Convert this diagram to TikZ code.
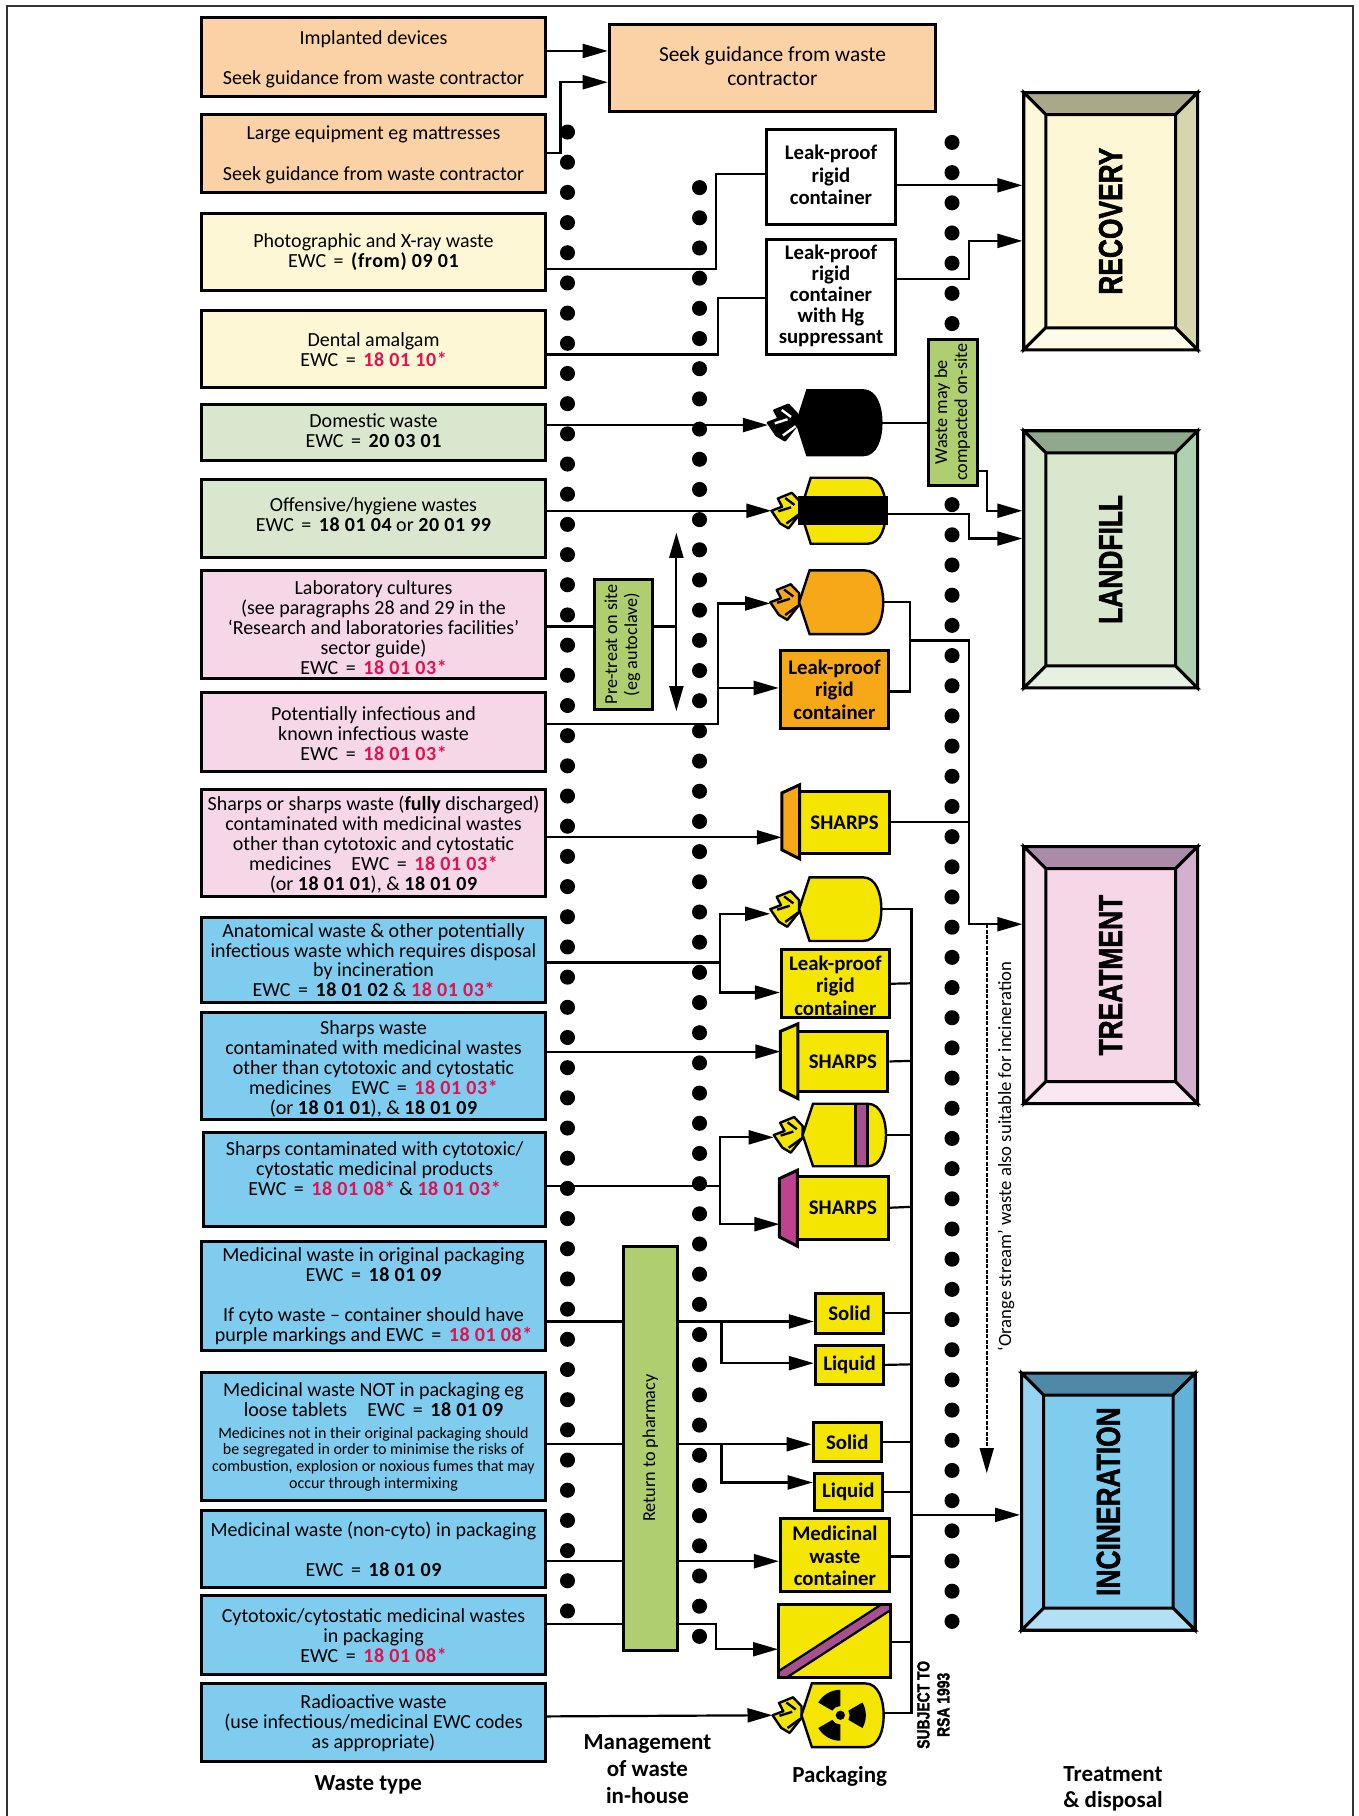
\documentclass[tikz,border=0pt]{standalone}
\usepackage{fontspec}
\usepackage{xcolor}
\usetikzlibrary{arrows.meta,calc}
\setmainfont{Carlito}
\newfontfamily\headfont[BoldFeatures={FakeBold=1.8}]{Liberation Sans}

\definecolor{peach}{HTML}{FBD2A6}
\definecolor{cream}{HTML}{FDF7D5}
\definecolor{sage}{HTML}{D8E7CE}
\definecolor{rose}{HTML}{F5D7E7}
\definecolor{sky}{HTML}{7FCCEE}
\definecolor{leaf}{HTML}{AECE6F}
\definecolor{binyellow}{HTML}{F4E600}
\definecolor{binorange}{HTML}{F7A818}
\definecolor{binpurple}{HTML}{A8508F}
\definecolor{binmagenta}{HTML}{BE4290}
\definecolor{codered}{HTML}{E0124F}
\definecolor{recovtop}{HTML}{A9A98A}
\definecolor{recovleft}{HTML}{FDF8DA}
\definecolor{recovright}{HTML}{D6D6AE}
\definecolor{recovbot}{HTML}{FEFCE8}
\definecolor{landtop}{HTML}{8FA88E}
\definecolor{landright}{HTML}{AED1B0}
\definecolor{landbot}{HTML}{E7F1E2}
\definecolor{treattop}{HTML}{AA8CA8}
\definecolor{treatleft}{HTML}{F6DDEA}
\definecolor{treatright}{HTML}{D4B0CF}
\definecolor{treatbot}{HTML}{F9E8F2}
\definecolor{incintop}{HTML}{5088A8}
\definecolor{incinleft}{HTML}{96D4F2}
\definecolor{incinright}{HTML}{62B1D8}
\definecolor{incinbot}{HTML}{B4E0F6}

\def\px{0.5793pt}
\newcommand{\bnum}[1]{{\bfseries\addfontfeature{LetterSpace=3}#1}}
\newcommand{\code}[1]{\textcolor{codered}{\bnum{#1}}}
\newcommand{\ewc}{EWC\hspace{1.5pt} =\hspace{1.5pt} }
\newcommand{\notefont}{\fontsize{8}{8.2}\selectfont}
\newcommand{\tdown}[1]{\rule{0pt}{\dimexpr 7.3pt+#1\relax}}
\newcommand{\tup}[1]{\rule[-#1]{0pt}{0pt}}
\newcommand{\heavy}[2]{\scalebox{.79}[1]{\headfont\bfseries\fontsize{#1}{#1}\selectfont #2}}

% name, tip x, mid y, width, half height, fill, colour of knot creases
\newcommand{\sack}[7]{
  \coordinate (#1-knot) at (#2-25,#3);
  \coordinate (#1-east) at (#2+#4,#3);
  \begin{scope}[shift={(#2,#3)}]
    \filldraw[line width=1.2pt, fill=#6, line join=round] (0,-7.8) -- (-7.3,-15.5) -- (-19.4,-10.6) -- (-15.7,-3.5) -- (-24.9,0) -- (-17.5,10.9) -- (-10.2,15.2) -- (0,2.3) -- cycle;
    \draw[line width=1.2pt, #7] (-13,-11) -- (-5,-5) (-19,0.5) -- (-8,-3) (-1,3) -- (-12,11);
    \filldraw[line width=1.2pt, fill=#6] (0,0) -- (9,-#5) -- (#4-16,-#5) .. controls (#4-4,-#5) and (#4,-#5*.45) .. (#4,0) .. controls (#4,#5*.45) and (#4-4,#5) .. (#4-16,#5) -- (9,#5) -- cycle;
  \end{scope}
}
% name, centre x, centre y, label, centre, top, left, right, bottom
\newcommand{\bevelbox}[9]{
  \node[draw, line width=1.5pt, fill=#5, minimum width=150*\px, minimum height=222*\px, inner sep=0pt] (#1) at (#2,#3) {};
  \begin{scope}[shift={(#2,#3)}, line width=1.5pt]
    \filldraw[fill=#6] (-75,-111) -- (75,-111) -- (56,-92) -- (-56,-92) -- cycle;
    \filldraw[fill=#7] (-75,-111) -- (-56,-92) -- (-56,92) -- (-75,111) -- cycle;
    \filldraw[fill=#8] (75,-111) -- (56,-92) -- (56,92) -- (75,111) -- cycle;
    \filldraw[fill=#9] (-75,111) -- (-56,92) -- (56,92) -- (75,111) -- cycle;
    \node[rotate=90] (#1-label) at (0,0) {\heavy{16.7}{#4}};
  \end{scope}
}

\begin{document}
\begin{tikzpicture}[x=\px, y=-\px, >={Triangle[length=12.5pt,width=7pt]}]
    \tikzstyle{wbox} = [draw, line width=1.5pt, minimum width=297*\px, inner sep=0pt, align=center, font=\fontsize{10}{10}\selectfont]
    \tikzstyle{seekbox} = [draw, line width=1.5pt, inner sep=0pt, align=center, fill=peach, font=\fontsize{10.7}{12}\selectfont]
    \tikzstyle{pack} = [draw, line width=1.5pt, fill=binyellow, inner sep=0pt, align=center, font=\bfseries\fontsize{10.4}{11.3}\selectfont]
    \tikzstyle{greenbox} = [draw, line width=1.5pt, fill=leaf, inner sep=0pt, font=\fontsize{9.1}{10}\selectfont]
    \tikzstyle{caption} = [align=center, font=\bfseries\fontsize{11.5}{13.3}\selectfont]
    \tikzstyle{arr} = [->, line width=1.1pt]
    \tikzstyle{wire} = [line width=1.1pt]
    \useasboundingbox (0,0) rectangle (1173,1568);

    \draw[line width=0.9pt, black!80] (5.8,1568) -- (5.8,5) -- (1168,5) -- (1168,1568);

    % dotted columns
    \foreach \k in {0,...,49} \fill (490,114+26.06*\k) circle (6.5);
    \foreach \k in {0,...,48} \fill (604,162+26.06*\k) circle (6.5);
    \foreach \k in {0,...,49} \fill (822,123+26.06*\k) circle (6.5);

    % waste types
    \node[wbox, fill=peach, minimum height=68*\px] (implanted) at (322.5,49) {\tdown{2.3pt}Implanted devices\\[10.3pt]Seek guidance from waste contractor};
    \node[wbox, fill=peach, minimum height=67*\px] (large) at (322.5,132.5) {\tdown{1.2pt}Large equipment eg mattresses\\[10.3pt]Seek guidance from waste contractor};
    \node[wbox, fill=cream, minimum height=67*\px] (photo) at (322.5,217.5) {Photographic and X-ray waste\\\ewc \bnum{(from) 09 01}};
    \node[wbox, fill=cream, minimum height=67*\px] (dental) at (322.5,301.5) {Dental amalgam\\\ewc \code{18 01 10*}};
    \node[wbox, fill=sage, minimum height=49*\px] (domestic) at (322.5,373.5) {Domestic waste\\\ewc \bnum{20 03 01}\tup{1.7pt}};
    \node[wbox, fill=sage, minimum height=67*\px] (offensive) at (322.5,447.5) {Offensive/hygiene wastes\\\ewc \bnum{18 01 04} or \bnum{20 01 99}\tup{3.5pt}};
    \node[wbox, fill=rose, minimum height=93*\px] (lab) at (322.5,539.5) {\tdown{2.3pt}Laboratory cultures\\(see paragraphs 28 and 29 in the\\‘Research and laboratories facilities’\\sector guide)\\\ewc \code{18 01 03*}};
    \node[wbox, fill=rose, minimum height=68*\px] (infectious) at (322.5,632) {\tdown{1.2pt}Potentially infectious and\\known infectious waste\\\ewc \code{18 01 03*}};
    \node[wbox, fill=rose, minimum height=92*\px] (sharpspink) at (322.5,728) {\tdown{1.2pt}Sharps or sharps waste (\textbf{fully} discharged)\\contaminated with medicinal wastes\\other than cytotoxic and cytostatic\\medicines\quad \ewc \code{18 01 03*}\\(or \bnum{18 01 01}), \& \bnum{18 01 09}};
    \node[wbox, fill=sky, minimum height=74*\px] (anatomical) at (322.5,829) {Anatomical waste \& other potentially\\infectious waste which requires disposal\\by incineration\\\ewc \bnum{18 01 02} \& \code{18 01 03*}};
    \node[wbox, fill=sky, minimum height=93*\px] (sharpsblue) at (322.5,920.5) {\tdown{2.3pt}Sharps waste\\contaminated with medicinal wastes\\other than cytotoxic and cytostatic\\medicines\quad \ewc \code{18 01 03*}\\(or \bnum{18 01 01}), \& \bnum{18 01 09}};
    \node[wbox, fill=sky, minimum width=295*\px, minimum height=81*\px] (cyto) at (323.5,1018.5) {Sharps contaminated with cytotoxic/\\cytostatic medicinal products\\\ewc \code{18 01 08*} \& \code{18 01 03*}\\[1.2pt]};
    \node[wbox, fill=sky, minimum height=94*\px] (original) at (322.5,1119) {Medicinal waste in original packaging\\\ewc \bnum{18 01 09}\\[10pt]If cyto waste -- container should have\\purple markings and \ewc \code{18 01 08*}};
    \node[wbox, fill=sky, minimum height=111*\px] (loose) at (322.5,1240.5) {Medicinal waste NOT in packaging eg\\loose tablets\quad \ewc \bnum{18 01 09}\\[1pt]\notefont Medicines not in their original packaging should\\[-1.7pt]\notefont be segregated in order to minimise the risks of\\[-1.7pt]\notefont combustion, explosion or noxious fumes that may\\[-1.7pt]\notefont occur through intermixing};
    \node[wbox, fill=sky, minimum height=67*\px] (noncyto) at (322.5,1337.5) {Medicinal waste (non-cyto) in packaging\\[10pt]\ewc \bnum{18 01 09}};
    \node[wbox, fill=sky, minimum height=68*\px] (cytopack) at (322.5,1412) {Cytotoxic/cytostatic medicinal wastes\\in packaging\\\ewc \code{18 01 08*}};
    \node[wbox, fill=sky, minimum height=67*\px] (radio) at (322.5,1487.5) {Radioactive waste\\(use infectious/medicinal EWC codes\\as appropriate)};

    % in-house management
    \node[greenbox, minimum width=50*\px, minimum height=113*\px] (pretreat) at (538,556.5) {\rotatebox{90}{\begin{tabular}{@{}c@{}}Pre-treat on site\\(eg autoclave)\end{tabular}}};
    \node[greenbox, minimum width=47*\px, minimum height=349*\px] (pharmacy) at (561.5,1250.5) {\rotatebox{90}{Return to pharmacy}};
    \node[greenbox, minimum width=42*\px, minimum height=126*\px] (compact) at (823,356) {\rotatebox{90}{\begin{tabular}{@{}c@{}}Waste may be\\compacted on-site\end{tabular}}};

    % packaging
    \node[seekbox, minimum width=282*\px, minimum height=75*\px] (seek) at (667,58.5) {Seek guidance from waste\\contractor\tup{1.2pt}};
    \node[pack, fill=white, minimum width=111*\px, minimum height=82*\px] (rigidone) at (717.5,153) {Leak-proof\\rigid\\container\tup{2.3pt}};
    \node[pack, fill=white, minimum width=111*\px, minimum height=99*\px, font=\bfseries\fontsize{10.4}{10.6}\selectfont] (rigidhg) at (717.5,256.5) {Leak-proof\\rigid\\container\\with Hg\\suppressant\tup{2.8pt}};

    \sack{blacksack}{688}{365}{73}{28}{black}{white}
    \sack{offsack}{691}{441}{74}{28.5}{binyellow}{black}
    \draw[line width=1.2pt, fill=black] (690,429) rectangle (766,452.5);
    \sack{orangesack}{690}{520}{72.6}{27.5}{binorange}{black}
    \sack{yellowsack}{690}{785}{71}{27.5}{binyellow}{black}
    \sack{cytosack}{693}{980}{72}{27}{binyellow}{black}
    \draw[line width=1.2pt, fill=binpurple] (738.5,953) rectangle (749,1007);
    \sack{radiosack}{692}{1481}{71}{27.5}{binyellow}{black}
    \coordinate (trefoil) at (725.6,1481);
    \foreach \a in {0,120,240} \fill ($(trefoil)+(\a-30:8)$) arc[start angle=\a-30, end angle=\a+30, radius=8] -- ($(trefoil)+(\a+30:22)$) arc[start angle=\a+30, end angle=\a-30, radius=22] -- cycle;
    \fill (trefoil) circle (4);

    \node[pack, fill=binorange, minimum width=93.7*\px, minimum height=67.4*\px] (rigidorange) at (720.5,595.3) {Leak-proof\\rigid\\container};
    \node[pack, minimum width=93.3*\px, minimum height=58.8*\px] (rigidyellow) at (721.3,849.4) {\tdown{1.7pt}Leak-proof\\rigid\\container};

    \node[pack, minimum width=77.5*\px, minimum height=54*\px] (sharpsone) at (729.2,710) {SHARPS};
    \filldraw[line width=1.5pt, fill=binorange] (675,684.7) -- (690.5,677.6) -- (690.5,741.6) -- (675,733.7) -- cycle;
    \node[pack, minimum width=77.6*\px, minimum height=52*\px] (sharpstwo) at (727.8,916.5) {SHARPS};
    \filldraw[line width=1.5pt, fill=binyellow] (673.8,890.5) -- (689,884) -- (689,948.6) -- (673.8,941) -- cycle;
    \node[pack, minimum width=78.5*\px, minimum height=54.4*\px] (sharpsthree) at (727.8,1042.8) {SHARPS};
    \filldraw[line width=1.5pt, fill=binmagenta] (673,1017.6) -- (688.5,1010.4) -- (688.5,1076) -- (673,1068) -- cycle;

    \node[pack, minimum width=59*\px, minimum height=34*\px] (solidone) at (733.5,1134) {Solid};
    \node[pack, minimum width=59*\px, minimum height=33*\px] (liquidone) at (733.5,1178.5) {Liquid};
    \node[pack, minimum width=59*\px, minimum height=34*\px] (solidtwo) at (731.5,1245) {Solid};
    \node[pack, minimum width=59*\px, minimum height=32*\px] (liquidtwo) at (732.5,1288) {Liquid};
    \node[pack, minimum width=94.2*\px, minimum height=63*\px] (medbin) at (720.9,1342.5) {\tdown{1.2pt}Medicinal\\waste\\container};
    \node[pack, draw=none, minimum width=94.3*\px, minimum height=60.3*\px] (cytobin) at (720.2,1416.8) {};
    \begin{scope}
      \clip (cytobin.south west) rectangle (cytobin.north east);
      \draw[line width=6pt] (cytobin.south west) -- (cytobin.north east);
      \draw[line width=3.6pt, binpurple] (cytobin.south west) -- (cytobin.north east);
    \end{scope}
    \draw[line width=1.5pt] (cytobin.south west) rectangle (cytobin.north east);

    % treatment and disposal
    \bevelbox{recovery}{959}{191}{RECOVERY}{cream}{recovtop}{recovleft}{recovright}{recovbot}
    \bevelbox{landfill}{959}{483}{LANDFILL}{sage}{landtop}{sage}{landright}{landbot}
    \bevelbox{treatment}{959}{842}{TREATMENT}{rose}{treattop}{treatleft}{treatright}{treatbot}
    \bevelbox{incineration}{957}{1296.5}{INCINERATION}{sky}{incintop}{incinleft}{incinright}{incinbot}

    % connectors
    \draw[arr] (implanted.east|-0,44) -- (seek.west|-0,44);
    \draw[arr] (large.east|-0,132) -| (484,71) -- (seek.west|-0,71);
    \draw[wire] (photo.east|-0,232) -| (618,150) -- (rigidone.west|-0,150);
    \draw[wire] (dental.east|-0,306) -| (620,257) -- (rigidhg.west|-0,257);
    \draw[arr] (rigidone.east|-0,160) -- (recovery.west|-0,160);
    \draw[arr] (rigidhg.east|-0,241) -| (837,208) -- (recovery.west|-0,208);

    \draw[arr] (domestic.east|-0,367) -- (blacksack-knot|-0,367);
    \draw[wire] (blacksack-east) -- (compact.west|-blacksack-east);
    \draw[arr] (compact.east|-0,407) -| (852,441) -- (landfill.west|-0,441);
    \draw[arr] (offensive.east|-0,441) -- (offsack-knot);
    \draw[arr] (offsack-east|-0,444) -| (837,465) -- (landfill.west|-0,465);

    \draw[wire] (lab.east|-0,541) -- (pretreat.west|-0,541);
    \coordinate (updowntop) at (584,460);
    \coordinate (updownbot) at (584,614);
    \draw[arr, <->] (updowntop) -- (updownbot);
    \draw[wire] (pretreat.east|-0,541) -- (updowntop|-0,541);
    \draw[arr] (infectious.east|-0,625) -| (620,521) -- (orangesack-knot|-0,521);
    \draw[arr] (620,594) -- (rigidorange.west|-0,594);
    \draw[wire] (orangesack-east) -| (786,597) -- (rigidorange.east|-0,597);
    \draw[arr] (786,553) -| (837,798) -- (treatment.west|-0,798);
    \draw[arr] (sharpspink.east|-0,723) -- (675,723);
    \draw[wire] (sharpsone.east) -- (837,710);
    \draw[arr, dash pattern=on 2pt off 0.7pt, line width=0.8pt] (852,798) -- (852,1272);
    \node[rotate=90, font=\fontsize{9.35}{10}\selectfont] (orangenote) at (868.5,998.5) {‘Orange stream’ waste also suitable for incineration};

    \draw[arr] (anatomical.east|-0,831) -| (622,789) -- (yellowsack-knot|-0,789);
    \draw[arr] (622,831) |- (rigidyellow.west|-0,857);
    \draw[arr] (sharpsblue.east|-0,908) -- (673.8,908);
    \draw[arr] (cyto.east|-0,1024) -| (622,982) -- (cytosack-knot|-0,982);
    \draw[arr] (622,1024) |- (673,1057);

    \draw[wire] (original.east|-0,1141) -- (pharmacy.west|-0,1141);
    \draw[arr] (pharmacy.east|-0,1141) -- (solidone.west|-0,1141);
    \draw[arr] (623,1141) |- (liquidone.west|-0,1177);
    \draw[wire] (loose.east|-0,1247) -- (pharmacy.west|-0,1247);
    \draw[arr] (pharmacy.east|-0,1247) -- (solidtwo.west|-0,1247);
    \draw[arr] (623,1247) |- (liquidtwo.west|-0,1280);
    \draw[wire] (noncyto.east|-0,1348) -- (pharmacy.west|-0,1348);
    \draw[arr] (pharmacy.east|-0,1348) -- (medbin.west|-0,1348);
    \draw[wire] (cytopack.east|-0,1402) -- (pharmacy.west|-0,1402);
    \draw[arr] (pharmacy.east|-0,1402) -| (618,1424) -- (cytobin.west|-0,1424);
    \draw[arr] (radio.east|-0,1482) -- (radiosack-knot);

    % bus to incineration
    \draw[wire] (yellowsack-east) -| (787,1479) -- (radiosack-east|-0,1479);
    \draw[wire] (rigidyellow.east) -- (787,849);
    \draw[wire] (sharpstwo.east) -- (787,916);
    \draw[wire] (cytosack-east) -- (787,980);
    \draw[wire] (sharpsthree.east) -- (787,1042);
    \draw[wire] (solidone.east) -- (787,1134);
    \draw[wire] (liquidone.east) -- (787,1178);
    \draw[wire] (solidtwo.east) -- (787,1245);
    \draw[wire] (liquidtwo.east) -- (787,1288);
    \draw[wire] (medbin.east|-0,1344) -- (787,1344);
    \draw[wire] (cytobin.east|-0,1418) -- (787,1418);
    \draw[arr] (787,1308) -- (incineration.west|-0,1308);

    % captions
    \node[caption] (typecap) at (318,1541) {Waste type};
    \node[caption] (housecap) at (559,1527.5) {Management\\of waste\\in-house};
    \node[caption] (packcap) at (725,1534) {Packaging};
    \node[caption] (disposalcap) at (961,1544.5) {Treatment\\\& disposal};
    \node (rsacap) at (807,1472) {\rotatebox{90}{\begin{tabular}{@{}c@{}}\heavy{8.8}{SUBJECT TO}\\[-2pt]\heavy{8.8}{RSA 1993}\end{tabular}}};
\end{tikzpicture}
\end{document}
